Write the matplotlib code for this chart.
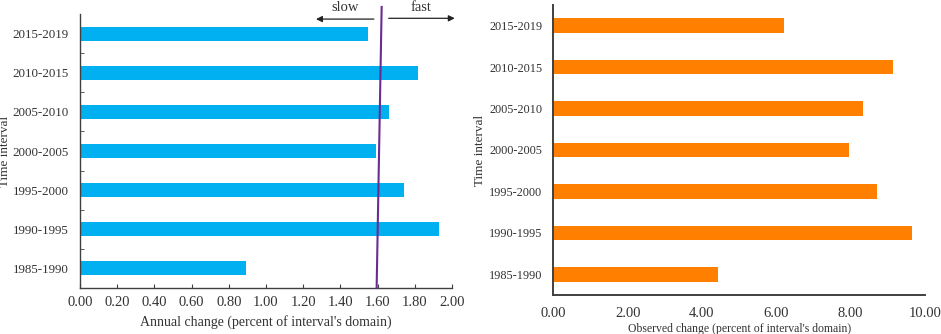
import matplotlib
matplotlib.use("Agg")
import matplotlib.pyplot as plt

categories = ["1985-1990", "1990-1995", "1995-2000", "2000-2005", "2005-2010", "2010-2015", "2015-2019"]
annual_change = [0.89, 1.93, 1.74, 1.59, 1.66, 1.82, 1.55]
observed_change = [4.44, 9.66, 8.71, 7.96, 8.34, 9.13, 6.21]
left_ticks = [0.0, 0.2, 0.4, 0.6, 0.8, 1.0, 1.2, 1.4, 1.6, 1.8, 2.0]
right_ticks = [0.0, 2.0, 4.0, 6.0, 8.0, 10.0]
threshold_bottom = 1.595
threshold_top = 1.622

plt.rcParams['font.family'] = ['Liberation Serif', 'DejaVu Serif']
axis_col = '#404040'
text_col = '#333333'

fig = plt.figure(figsize=(9.41, 3.34), dpi=100)

# Left panel
ax1 = fig.add_axes([0.0850, 0.1377, 0.3953, 0.8204])
ypos = list(range(len(categories)))
ax1.barh(ypos, annual_change, height=0.36, color='#00B0F0')
ax1.set_xlim(0, 2.0)
ax1.set_ylim(-0.5, len(categories) - 0.5)
ax1.set_xticks(left_ticks)
ax1.set_xticklabels([f"{t:.2f}" for t in left_ticks], fontsize=10.5, color=text_col)
ax1.set_yticks(ypos)
ax1.set_yticklabels(categories, fontsize=9.4, color=text_col)
ax1.set_yticks([i + 0.5 for i in ypos[:-1]], minor=True)
ax1.tick_params(axis='y', which='major', length=0, pad=8)
ax1.tick_params(axis='y', which='minor', direction='in', length=3, color=axis_col)
ax1.tick_params(axis='x', direction='in', length=3, color=axis_col, pad=6)
for s in ['top', 'right']:
    ax1.spines[s].set_visible(False)
for s in ['left', 'bottom']:
    ax1.spines[s].set_color(axis_col)
    ax1.spines[s].set_linewidth(1.0)
ax1.set_xlabel("Annual change (percent of interval's domain)", fontsize=10.0, color=text_col, labelpad=4)
ax1.set_ylabel("Time interval", fontsize=9.5, color=text_col)
ax1.yaxis.set_label_coords(-0.185, 0.5)

# threshold line
ax1.plot([threshold_bottom, threshold_top], [-0.5, 6.68], color='#6A2C91', lw=1.5, clip_on=False, zorder=5)
ax1.annotate("", xy=(1.254, 6.37), xytext=(1.595, 6.37),
             arrowprops=dict(arrowstyle='-|>', color='#222222', lw=0.9, mutation_scale=9),
             annotation_clip=False)
ax1.annotate("", xy=(2.03, 6.39), xytext=(1.645, 6.39),
             arrowprops=dict(arrowstyle='-|>', color='#222222', lw=0.9, mutation_scale=9),
             annotation_clip=False)
ax1.text(1.428, 6.84, "slow", fontsize=10.5, ha='center', va='top', color=text_col, clip_on=False)
ax1.text(1.833, 6.84, "fast", fontsize=10.5, ha='center', va='top', color=text_col, clip_on=False)

# Right panel
ax2 = fig.add_axes([0.5880, 0.1168, 0.3950, 0.8682])
ax2.barh(ypos, observed_change, height=0.35, color='#FF8000')
ax2.set_xlim(0, 10.0)
ax2.set_ylim(-0.5, len(categories) - 0.5)
ax2.set_xticks(right_ticks)
ax2.set_xticklabels([f"{t:.2f}" for t in right_ticks], fontsize=10.5, color=text_col)
ax2.set_yticks(ypos)
ax2.set_yticklabels(categories, fontsize=8.8, color=text_col)
ax2.tick_params(axis='both', length=0)
ax2.tick_params(axis='x', pad=9)
ax2.tick_params(axis='y', pad=8)
for s in ['top', 'right']:
    ax2.spines[s].set_visible(False)
for s in ['left', 'bottom']:
    ax2.spines[s].set_color(axis_col)
    ax2.spines[s].set_linewidth(1.4)
ax2.set_xlabel("Observed change (percent of interval's domain)", fontsize=8.5, color=text_col, labelpad=2)
ax2.set_ylabel("Time interval", fontsize=9.5, color=text_col)
ax2.yaxis.set_label_coords(-0.181, 0.5)

fig.savefig("out.png", dpi=100)
